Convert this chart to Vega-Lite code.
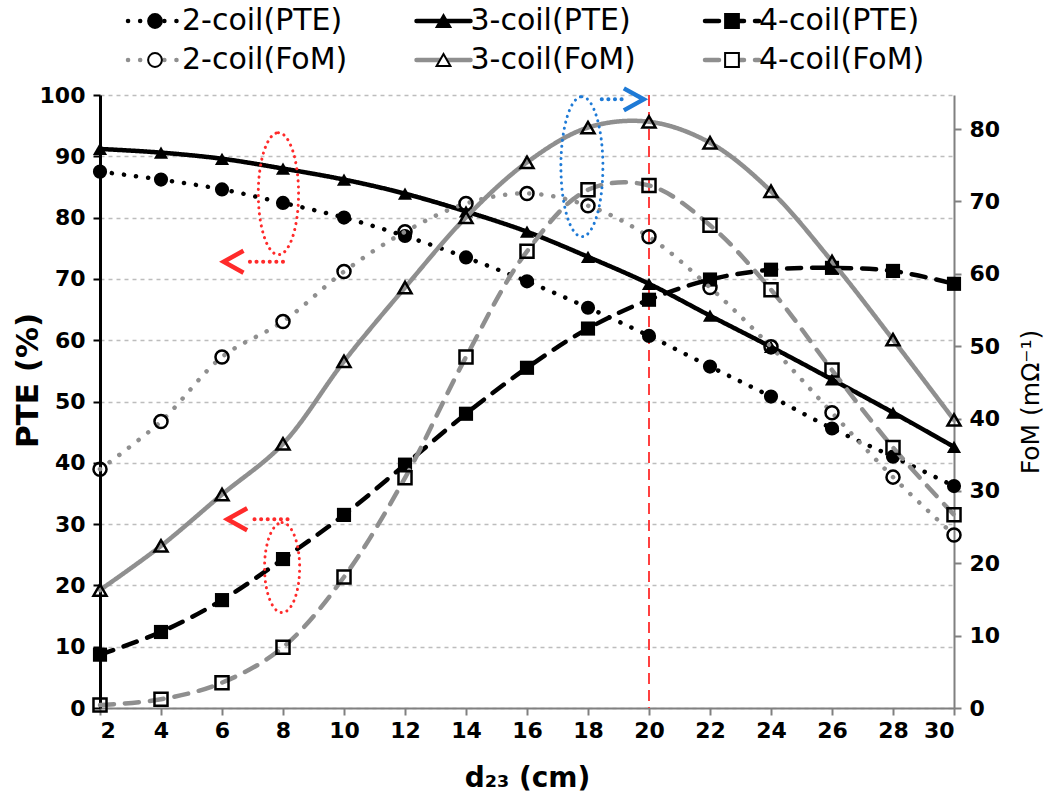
{
  "$schema": "https://vega.github.io/schema/vega-lite/v6.json",
  "width": 854,
  "height": 613,
  "autosize": {"type": "none"},
  "padding": {"left": 100, "top": 95, "right": 96, "bottom": 99},
  "background": "white",
  "config": {
    "view": {"stroke": null},
    "font": "DejaVu Sans",
    "axis": {"labelFont": "DejaVu Sans", "labelFontWeight": "bold", "labelColor": "black", "labelFontSize": 22, "titleFont": "DejaVu Sans", "titleColor": "black"}
  },
  "datasets": {
    "pte": [
      {"d23": 2, "coil": "2-coil", "value": 87.5}, {"d23": 4, "coil": "2-coil", "value": 86.2}, {"d23": 6, "coil": "2-coil", "value": 84.6}, {"d23": 8, "coil": "2-coil", "value": 82.4}, {"d23": 10, "coil": "2-coil", "value": 80.0}, {"d23": 12, "coil": "2-coil", "value": 77.0}, {"d23": 14, "coil": "2-coil", "value": 73.5}, {"d23": 16, "coil": "2-coil", "value": 69.6}, {"d23": 18, "coil": "2-coil", "value": 65.3}, {"d23": 20, "coil": "2-coil", "value": 60.7}, {"d23": 22, "coil": "2-coil", "value": 55.7}, {"d23": 24, "coil": "2-coil", "value": 50.8}, {"d23": 26, "coil": "2-coil", "value": 45.6}, {"d23": 28, "coil": "2-coil", "value": 41.0}, {"d23": 30, "coil": "2-coil", "value": 36.2},
      {"d23": 2, "coil": "3-coil", "value": 91.2}, {"d23": 4, "coil": "3-coil", "value": 90.6}, {"d23": 6, "coil": "3-coil", "value": 89.6}, {"d23": 8, "coil": "3-coil", "value": 88.0}, {"d23": 10, "coil": "3-coil", "value": 86.2}, {"d23": 12, "coil": "3-coil", "value": 83.9}, {"d23": 14, "coil": "3-coil", "value": 81.0}, {"d23": 16, "coil": "3-coil", "value": 77.7}, {"d23": 18, "coil": "3-coil", "value": 73.6}, {"d23": 20, "coil": "3-coil", "value": 69.2}, {"d23": 22, "coil": "3-coil", "value": 64.0}, {"d23": 24, "coil": "3-coil", "value": 58.9}, {"d23": 26, "coil": "3-coil", "value": 53.6}, {"d23": 28, "coil": "3-coil", "value": 48.2}, {"d23": 30, "coil": "3-coil", "value": 42.6},
      {"d23": 2, "coil": "4-coil", "value": 8.7}, {"d23": 4, "coil": "4-coil", "value": 12.4}, {"d23": 6, "coil": "4-coil", "value": 17.6}, {"d23": 8, "coil": "4-coil", "value": 24.3}, {"d23": 10, "coil": "4-coil", "value": 31.5}, {"d23": 12, "coil": "4-coil", "value": 39.7}, {"d23": 14, "coil": "4-coil", "value": 48.0}, {"d23": 16, "coil": "4-coil", "value": 55.5}, {"d23": 18, "coil": "4-coil", "value": 61.9}, {"d23": 20, "coil": "4-coil", "value": 66.6}, {"d23": 22, "coil": "4-coil", "value": 69.9}, {"d23": 24, "coil": "4-coil", "value": 71.5}, {"d23": 26, "coil": "4-coil", "value": 71.8}, {"d23": 28, "coil": "4-coil", "value": 71.3}, {"d23": 30, "coil": "4-coil", "value": 69.2}
    ],
    "fom": [
      {"d23": 2, "coil": "2-coil", "value": 33.0}, {"d23": 4, "coil": "2-coil", "value": 39.6}, {"d23": 6, "coil": "2-coil", "value": 48.5}, {"d23": 8, "coil": "2-coil", "value": 53.4}, {"d23": 10, "coil": "2-coil", "value": 60.3}, {"d23": 12, "coil": "2-coil", "value": 65.8}, {"d23": 14, "coil": "2-coil", "value": 69.7}, {"d23": 16, "coil": "2-coil", "value": 71.1}, {"d23": 18, "coil": "2-coil", "value": 69.4}, {"d23": 20, "coil": "2-coil", "value": 65.1}, {"d23": 22, "coil": "2-coil", "value": 58.1}, {"d23": 24, "coil": "2-coil", "value": 49.9}, {"d23": 26, "coil": "2-coil", "value": 40.8}, {"d23": 28, "coil": "2-coil", "value": 31.9}, {"d23": 30, "coil": "2-coil", "value": 23.9},
      {"d23": 2, "coil": "3-coil", "value": 16.3}, {"d23": 4, "coil": "3-coil", "value": 22.4}, {"d23": 6, "coil": "3-coil", "value": 29.5}, {"d23": 8, "coil": "3-coil", "value": 36.5}, {"d23": 10, "coil": "3-coil", "value": 47.9}, {"d23": 12, "coil": "3-coil", "value": 58.1}, {"d23": 14, "coil": "3-coil", "value": 67.8}, {"d23": 16, "coil": "3-coil", "value": 75.4}, {"d23": 18, "coil": "3-coil", "value": 80.2}, {"d23": 20, "coil": "3-coil", "value": 81.0}, {"d23": 22, "coil": "3-coil", "value": 78.1}, {"d23": 24, "coil": "3-coil", "value": 71.4}, {"d23": 26, "coil": "3-coil", "value": 61.7}, {"d23": 28, "coil": "3-coil", "value": 50.9}, {"d23": 30, "coil": "3-coil", "value": 39.8},
      {"d23": 2, "coil": "4-coil", "value": 0.4}, {"d23": 4, "coil": "4-coil", "value": 1.2}, {"d23": 6, "coil": "4-coil", "value": 3.5}, {"d23": 8, "coil": "4-coil", "value": 8.4}, {"d23": 10, "coil": "4-coil", "value": 18.1}, {"d23": 12, "coil": "4-coil", "value": 31.8}, {"d23": 14, "coil": "4-coil", "value": 48.5}, {"d23": 16, "coil": "4-coil", "value": 63.1}, {"d23": 18, "coil": "4-coil", "value": 71.6}, {"d23": 20, "coil": "4-coil", "value": 72.2}, {"d23": 22, "coil": "4-coil", "value": 66.7}, {"d23": 24, "coil": "4-coil", "value": 57.8}, {"d23": 26, "coil": "4-coil", "value": 46.7}, {"d23": 28, "coil": "4-coil", "value": 36.0}, {"d23": 30, "coil": "4-coil", "value": 26.7}
    ],
    "legend": [
      {"label": "2-coil(PTE)", "coil": "2-coil", "metric": "PTE"},
      {"label": "3-coil(PTE)", "coil": "3-coil", "metric": "PTE"},
      {"label": "4-coil(PTE)", "coil": "4-coil", "metric": "PTE"},
      {"label": "2-coil(FoM)", "coil": "2-coil", "metric": "FoM"},
      {"label": "3-coil(FoM)", "coil": "3-coil", "metric": "FoM"},
      {"label": "4-coil(FoM)", "coil": "4-coil", "metric": "FoM"}
    ]
  },
  "layer": [
    {
      "layer": [
        {
          "data": {"values": [{"d23": 20}]},
          "mark": {"type": "rule", "color": "#ff4040", "strokeWidth": 2, "strokeDash": [11, 6]},
          "encoding": {
            "x": {"field": "d23", "type": "quantitative", "scale": {"domain": [2, 30], "nice": false, "zero": false}}
          }
        },
        {
          "data": {"name": "pte"},
          "mark": {"type": "line", "color": "black", "strokeWidth": 4.5, "strokeCap": "round", "interpolate": "catmull-rom"},
          "encoding": {
            "x": {"field": "d23", "type": "quantitative", "scale": {"domain": [2, 30], "nice": false, "zero": false},
              "axis": {"values": [2, 4, 6, 8, 10, 12, 14, 16, 18, 20, 22, 24, 26, 28, 30], "title": "d₂₃ (cm)", "grid": false, "domainColor": "#808080", "domainWidth": 2, "tickColor": "#808080", "tickWidth": 2, "tickSize": 7, "labelPadding": 5, "titleFontSize": 28, "titleFontWeight": "bold", "titlePadding": 23}},
            "y": {"field": "value", "type": "quantitative", "scale": {"domain": [0, 100], "nice": false, "zero": false},
              "axis": {"values": [0, 10, 20, 30, 40, 50, 60, 70, 80, 90, 100], "title": "PTE (%)", "grid": true, "gridDash": [4, 4], "gridColor": "#bdbdbd", "gridWidth": 1.5, "domainColor": "black", "domainWidth": 3, "tickColor": "black", "tickWidth": 2, "tickSize": 7, "labelPadding": 8, "titleFontSize": 31, "titleFontWeight": "bold", "titlePadding": -5, "titleY": 285}},
            "strokeDash": {"field": "coil", "type": "nominal", "scale": {"domain": ["2-coil", "3-coil", "4-coil"], "range": [[0.1, 12], [1, 0], [14, 11]]}, "legend": null}
          }
        },
        {
          "data": {"name": "pte"},
          "mark": {"type": "point", "filled": true, "color": "black", "opacity": 1, "size": 200},
          "encoding": {
            "x": {"field": "d23", "type": "quantitative"},
            "y": {"field": "value", "type": "quantitative"},
            "shape": {"field": "coil", "type": "nominal", "scale": {"domain": ["2-coil", "3-coil", "4-coil"], "range": ["circle", "triangle-up", "square"]}, "legend": null}
          }
        },
        {
          "data": {"values": [{"d23": 7.85, "value": 83.9}]},
          "mark": {"type": "point", "shape": "M0,-1A0.33,1 0 1,1 0,1A0.33,1 0 1,1 0,-1", "size": 14884, "filled": false, "opacity": 1, "stroke": "#ff2a2a", "strokeWidth": 3, "strokeDash": [0.1, 6], "strokeCap": "round"},
          "encoding": {"x": {"field": "d23", "type": "quantitative"}, "y": {"field": "value", "type": "quantitative"}}
        },
        {
          "data": {"values": [{"d23": 7.97, "value": 22.9}]},
          "mark": {"type": "point", "shape": "M0,-1A0.39,1 0 1,1 0,1A0.39,1 0 1,1 0,-1", "size": 8100, "filled": false, "opacity": 1, "stroke": "#ff2a2a", "strokeWidth": 3, "strokeDash": [0.1, 6], "strokeCap": "round"},
          "encoding": {"x": {"field": "d23", "type": "quantitative"}, "y": {"field": "value", "type": "quantitative"}}
        },
        {
          "data": {"values": [{"d23": 8.0, "d23end": 6.8, "value": 72.8}, {"d23": 8.15, "d23end": 6.9, "value": 30.8}]},
          "mark": {"type": "rule", "color": "#ff2a2a", "strokeWidth": 4, "strokeDash": [0.1, 6.5], "strokeCap": "round"},
          "encoding": {"x": {"field": "d23", "type": "quantitative"}, "x2": {"field": "d23end"}, "y": {"field": "value", "type": "quantitative"}}
        },
        {
          "data": {"values": [{"d23": 6.38, "value": 72.8}, {"d23": 6.5, "value": 30.8}]},
          "mark": {"type": "point", "shape": "M0.9,-1L-0.9,0L0.9,1", "size": 484, "filled": false, "opacity": 1, "stroke": "#ff2a2a", "strokeWidth": 4.5},
          "encoding": {"x": {"field": "d23", "type": "quantitative"}, "y": {"field": "value", "type": "quantitative"}}
        }
      ]
    },
    {
      "layer": [
        {
          "data": {"name": "fom"},
          "mark": {"type": "line", "color": "#8f8f8f", "strokeWidth": 4.5, "strokeCap": "round", "interpolate": "catmull-rom"},
          "encoding": {
            "x": {"field": "d23", "type": "quantitative", "scale": {"domain": [2, 30], "nice": false, "zero": false}, "axis": null},
            "y": {"field": "value", "type": "quantitative", "scale": {"domain": [0, 84.7], "nice": false, "zero": false},
              "axis": {"orient": "right", "values": [0, 10, 20, 30, 40, 50, 60, 70, 80], "title": "FoM (mΩ⁻¹)", "grid": false, "domainColor": "#808080", "domainWidth": 2, "tickColor": "#808080", "tickWidth": 2, "tickSize": 7, "labelPadding": 8, "titleFontSize": 25, "titleFontWeight": "normal", "titleAngle": 270, "titlePadding": 44}},
            "strokeDash": {"field": "coil", "type": "nominal", "legend": null}
          }
        },
        {
          "data": {"name": "fom"},
          "mark": {"type": "point", "filled": false, "color": "black", "opacity": 1, "size": 170, "strokeWidth": 2.5},
          "encoding": {
            "x": {"field": "d23", "type": "quantitative"},
            "y": {"field": "value", "type": "quantitative"},
            "shape": {"field": "coil", "type": "nominal", "legend": null}
          }
        },
        {
          "data": {"values": [{"d23": 17.8, "value": 74.8}]},
          "mark": {"type": "point", "shape": "M0,-1A0.3,1 0 1,1 0,1A0.3,1 0 1,1 0,-1", "size": 19600, "filled": false, "opacity": 1, "stroke": "#1e7ad6", "strokeWidth": 3, "strokeDash": [0.1, 6], "strokeCap": "round"},
          "encoding": {"x": {"field": "d23", "type": "quantitative"}, "y": {"field": "value", "type": "quantitative"}}
        },
        {
          "data": {"values": [{"d23": 18.45, "d23end": 19.2, "value": 84.1}]},
          "mark": {"type": "rule", "color": "#1e7ad6", "strokeWidth": 4, "strokeDash": [0.1, 6.5], "strokeCap": "round"},
          "encoding": {"x": {"field": "d23", "type": "quantitative"}, "x2": {"field": "d23end"}, "y": {"field": "value", "type": "quantitative"}}
        },
        {
          "data": {"values": [{"d23": 19.5, "value": 84.1}]},
          "mark": {"type": "point", "shape": "M-0.9,-1L0.9,0L-0.9,1", "size": 484, "filled": false, "opacity": 1, "stroke": "#1e7ad6", "strokeWidth": 4.5},
          "encoding": {"x": {"field": "d23", "type": "quantitative"}, "y": {"field": "value", "type": "quantitative"}}
        }
      ]
    },
    {
      "data": {"name": "legend"},
      "encoding": {
        "x": {"field": "coil", "type": "nominal", "scale": {"type": "point", "domain": ["2-coil", "3-coil", "4-coil"], "range": [55, 632], "padding": 0}, "axis": null},
        "y": {"field": "metric", "type": "nominal", "scale": {"type": "point", "domain": ["PTE", "FoM"], "range": [-74, -35], "padding": 0}, "axis": null}
      },
      "layer": [
        {
          "mark": {"type": "point", "shape": "M-1,0H1", "size": 2916, "filled": false, "opacity": 1, "strokeWidth": 4.5, "strokeCap": "round"},
          "encoding": {
            "stroke": {"field": "metric", "type": "nominal", "scale": {"domain": ["PTE", "FoM"], "range": ["black", "#8f8f8f"]}, "legend": null},
            "strokeDash": {"field": "coil", "type": "nominal", "legend": null}
          }
        },
        {
          "mark": {"type": "point", "filled": true, "opacity": 1, "stroke": "black", "strokeWidth": 2, "size": 190},
          "encoding": {
            "shape": {"field": "coil", "type": "nominal", "legend": null},
            "fill": {"field": "metric", "type": "nominal", "scale": {"domain": ["PTE", "FoM"], "range": ["black", "white"]}, "legend": null}
          }
        },
        {
          "mark": {"type": "text", "align": "left", "baseline": "middle", "dx": 27, "fontSize": 30, "font": "DejaVu Sans", "color": "black"},
          "encoding": {"text": {"field": "label", "type": "nominal"}}
        }
      ]
    }
  ],
  "resolve": {"scale": {"x": "independent", "y": "independent"}}
}
